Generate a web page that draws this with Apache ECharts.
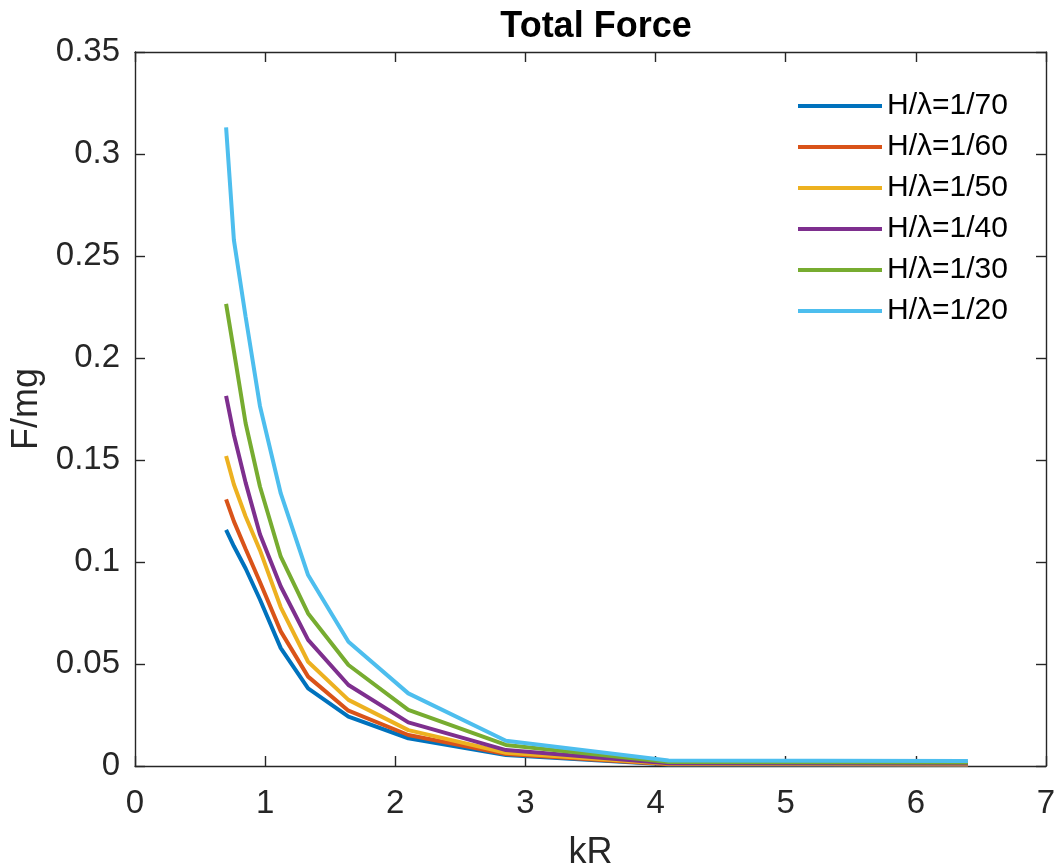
<!DOCTYPE html>
<html>
<head>
<meta charset="utf-8">
<title>Total Force</title>
<script src="https://cdn.jsdelivr.net/npm/echarts@6/dist/echarts.min.js"></script>
<style>
  html, body { margin: 0; padding: 0; background: #ffffff; }
  #chart { width: 1056px; height: 866px; }
</style>
</head>
<body>
<div id="chart"></div>
<script>
// kR sample points shared by every curve
const kR = [0.70, 0.76, 0.85, 0.96, 1.12, 1.33, 1.64, 2.10, 2.85, 4.10, 6.40];

// F/mg for each wave steepness H/λ
const h70 = [0.1157, 0.1077, 0.0968, 0.0816, 0.0578, 0.0380, 0.0242, 0.0136, 0.0054, 0.0007, 0.0005];
const h60 = [0.1307, 0.1199, 0.1064, 0.0902, 0.0660, 0.0438, 0.0271, 0.0152, 0.0059, 0.0009, 0.0007];
const h50 = [0.1520, 0.1380, 0.1223, 0.1058, 0.0778, 0.0511, 0.0324, 0.0176, 0.0065, 0.0011, 0.0009];
const h40 = [0.1814, 0.1623, 0.1389, 0.1136, 0.0880, 0.0618, 0.0397, 0.0214, 0.0078, 0.0014, 0.0012];
const h30 = [0.2265, 0.2034, 0.1680, 0.1370, 0.1026, 0.0748, 0.0495, 0.0275, 0.0103, 0.0019, 0.0017];
const h20 = [0.3131, 0.2578, 0.2202, 0.1765, 0.1336, 0.0936, 0.0609, 0.0356, 0.0124, 0.0027, 0.0025];

const seriesNames = ['H/λ=1/70', 'H/λ=1/60', 'H/λ=1/50', 'H/λ=1/40', 'H/λ=1/30', 'H/λ=1/20'];
const seriesValues = [h70, h60, h50, h40, h30, h20];
const seriesColors = ['#0072BD', '#D95319', '#EDB120', '#7E2F8E', '#77AC30', '#4DBEEE'];

// axis ranges and ticks
const xTicks = { min: 0, max: 7, interval: 1 };
const yTicks = { min: 0, max: 0.35, interval: 0.05 };

const axisColor = '#262626';
const font = '"Liberation Sans", Arial, Helvetica, sans-serif';

const chart = echarts.init(document.getElementById('chart'), null, { renderer: 'canvas' });

function boxAxis(base, position, showLabels, labelMargin) {
  return Object.assign({
    type: 'value',
    position: position,
    axisLine: { show: true, onZero: false, lineStyle: { color: axisColor, width: 1.4 } },
    axisTick: { show: true, inside: true, length: 10, lineStyle: { color: axisColor, width: 1.4 } },
    axisLabel: {
      show: showLabels,
      color: axisColor,
      fontFamily: font,
      fontSize: 33,
      margin: labelMargin
    },
    splitLine: { show: false }
  }, base);
}

const option = {
  animation: false,
  backgroundColor: '#ffffff',
  title: {
    text: 'Total Force',
    left: 591,
    top: 4,
    textAlign: 'center',
    textStyle: { fontFamily: font, fontSize: 36, fontWeight: 'bold', color: '#000000' }
  },
  grid: { left: 135, right: 10, top: 52, bottom: 100, containLabel: false, outerBoundsMode: 'none' },
  legend: {
    orient: 'vertical',
    left: 793,
    top: 86,
    itemWidth: 84,
    itemHeight: 14,
    itemGap: 11,
    icon: 'path://M0,0L84,0L84,4L0,4Z',
    textStyle: { fontFamily: font, fontSize: 30, color: '#000000', padding: [0, 0, 0, 0] },
    data: seriesNames
  },
  xAxis: [
    boxAxis(Object.assign({
      name: 'kR',
      nameLocation: 'middle',
      nameGap: 69,
      nameTextStyle: { fontFamily: font, fontSize: 36, color: axisColor }
    }, xTicks), 'bottom', true, 21),
    boxAxis(Object.assign({}, xTicks), 'top', false, 15)
  ],
  yAxis: [
    boxAxis(Object.assign({
      name: 'F/mg',
      nameLocation: 'middle',
      nameGap: 90,
      nameTextStyle: { fontFamily: font, fontSize: 36, color: axisColor }
    }, yTicks), 'left', true, 15),
    boxAxis(Object.assign({}, yTicks), 'right', false, 15)
  ],
  series: seriesNames.map((name, i) => ({
    name: name,
    type: 'line',
    xAxisIndex: 0,
    yAxisIndex: 0,
    symbol: 'none',
    smooth: false,
    color: seriesColors[i],
    lineStyle: { color: seriesColors[i], width: 4 },
    data: kR.map((k, j) => [k, seriesValues[i][j]])
  }))
};

chart.setOption(option);
</script>
</body>
</html>
